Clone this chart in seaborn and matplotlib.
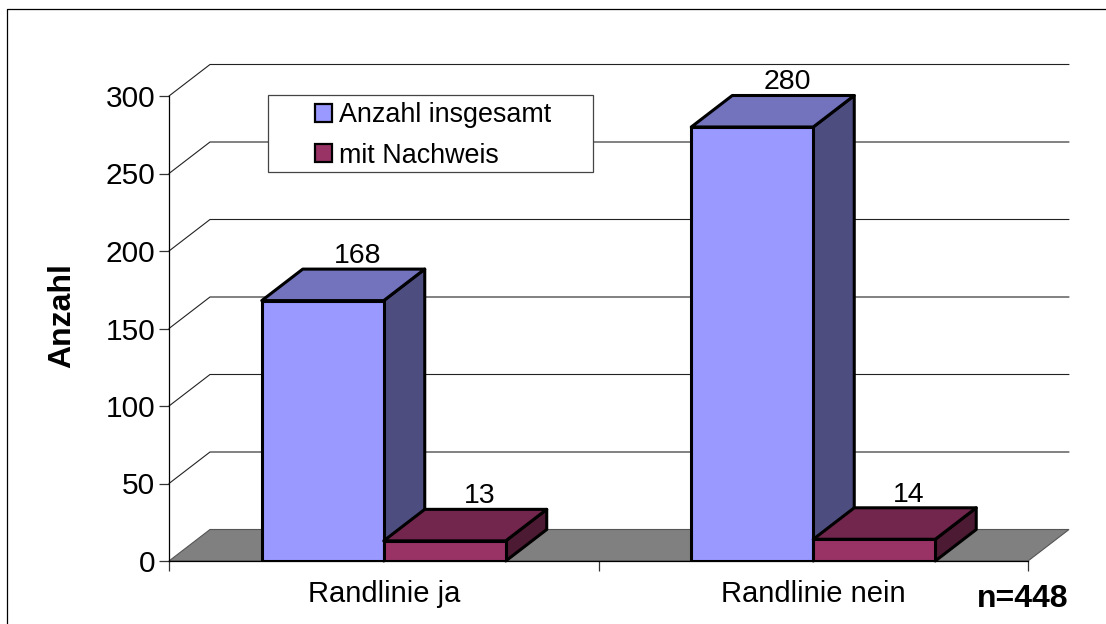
import matplotlib
matplotlib.use('Agg')
import matplotlib.pyplot as plt
import pandas as pd
import seaborn as sns
from matplotlib.patches import Polygon, Rectangle

categories = ['Randlinie ja', 'Randlinie nein']
anzahl_insgesamt = [168, 280]
mit_nachweis = [13, 14]
y_ticks = [0, 50, 100, 150, 200, 250, 300]
series_names = ['Anzahl insgesamt', 'mit Nachweis']

front_colors = ['#9999FF', '#993366']
top_colors = ['#7373BD', '#73264D']
side_colors = ['#4D4D80', '#4D1A33']
floor_color = '#808080'

W, H = 1106, 624
df = pd.DataFrame({
    'cat': categories * 2,
    'series': [series_names[0]] * 2 + [series_names[1]] * 2,
    'value': anzahl_insgesamt + mit_nachweis,
})

sns.set_theme(style='white')
plt.rcParams['font.family'] = ['Liberation Sans', 'DejaVu Sans']

fig = plt.figure(figsize=(W / 100, H / 100), dpi=100)
# axes box in pixels: x 169-1028, y 96-561
ax = fig.add_axes([169 / W, 1 - 561 / H, (1028 - 169) / W, (561 - 96) / H])

sns.barplot(data=df, x='cat', y='value', hue='series', palette=front_colors,
            width=0.568, gap=0, saturation=1, edgecolor='black', linewidth=2.2,
            legend=False, ax=ax, zorder=5)
ax.set_xlim(-0.5, 1.5)
ax.set_ylim(0, 300)

# depth of the fake 3d, in data units
dx = 41 / 859 * 2
dy = 31.5 / 465 * 300

# floor and back wall grid
ax.add_patch(Polygon([(-0.5, 0), (-0.5 + dx, dy), (1.5 + dx, dy), (1.5, 0)],
                     closed=True, fc=floor_color, ec='#555555', lw=0.8,
                     clip_on=False, zorder=1))
for t in y_ticks[1:]:
    ax.plot([-0.5, -0.5 + dx, 1.5 + dx], [t, t + dy, t + dy], color='#222222',
            lw=0.8, clip_on=False, zorder=1, solid_joinstyle='miter')

# side and top faces for every bar
bars = [p for p in ax.patches if isinstance(p, Rectangle) and p.get_height() > 0]
bars = sorted(bars, key=lambda p: p.get_x())
for b in bars:
    color_i = front_colors.index(matplotlib.colors.to_hex(b.get_facecolor()).upper())
    x0, x1, h = b.get_x(), b.get_x() + b.get_width(), b.get_height()
    z = 4 if color_i == 0 else 6
    ax.add_patch(Polygon([(x1, 0), (x1 + dx, dy), (x1 + dx, h + dy), (x1, h)],
                         closed=True, fc=side_colors[color_i], ec='black', lw=2.2,
                         clip_on=False, zorder=z, joinstyle='round'))
    ax.add_patch(Polygon([(x0, h), (x0 + dx, h + dy), (x1 + dx, h + dy), (x1, h)],
                         closed=True, fc=top_colors[color_i], ec='black', lw=2.2,
                         clip_on=False, zorder=z, joinstyle='round'))
    b.set_zorder(z + 1)
    ax.text((x0 + x1) / 2 + dx * 0.85, h + dy + 4, str(int(h)), ha='center', va='baseline',
            fontsize=20.5, color='black', zorder=10)

# axes
sns.despine(ax=ax, top=True, right=True)
for s in ['left', 'bottom']:
    ax.spines[s].set_color('black')
    ax.spines[s].set_linewidth(0.9)
    ax.spines[s].set_zorder(8)
ax.set_yticks(y_ticks)
ax.set_xticks([-0.5, 0.5, 1.5])
ax.set_xticklabels([])
ax.tick_params(axis='both', which='both', length=7, width=0.9, color='#333333', direction='out',
               left=True, bottom=True)
ax.tick_params(axis='y', labelsize=21.5, pad=3, labelcolor='black')
ax.set_xlabel('')
ax.set_ylabel('')

# category labels sit in between the ticks
for i, c in enumerate(categories):
    ax.annotate(c, xy=(i, 0), xytext=(0, -23.5), xycoords='data', textcoords='offset points',
                ha='center', va='center', fontsize=21, color='black', annotation_clip=False)

# figure level text and frame
fig.text(62 / W, 1 - 316 / H, 'Anzahl', rotation=90, ha='center', va='center',
         fontsize=23, fontweight='bold', color='black')
fig.text(1023 / W, 1 - 599 / H, 'n=448', ha='center', va='center',
         fontsize=23, fontweight='bold', color='black')
fig.add_artist(plt.Line2D([7 / W, 7 / W, 1 + 2 / W], [0, 1 - 9 / H, 1 - 9 / H],
                          color='black', lw=0.9))

# legend box is wider than its content, so it is drawn by hand behind a frameless legend
fig.add_artist(Rectangle((268 / W, 1 - 172 / H), 325 / W, 77 / H, transform=fig.transFigure,
                         fc='white', ec='#444444', lw=0.9, zorder=1))
handles = [Rectangle((0, 0), 1, 1, fc=front_colors[i], ec='black', lw=1.6) for i in range(2)]
leg = fig.legend(handles, series_names, loc='upper left',
                 bbox_to_anchor=(315 / W, 1 - 102.5 / H), bbox_transform=fig.transFigure,
                 fontsize=19.4, frameon=False, borderaxespad=0, borderpad=0,
                 handlelength=0.63, handleheight=0.63, handletextpad=0.26,
                 labelspacing=0.53, labelcolor='black')
leg.set_zorder(2)

fig.savefig('out.png', dpi=100)
